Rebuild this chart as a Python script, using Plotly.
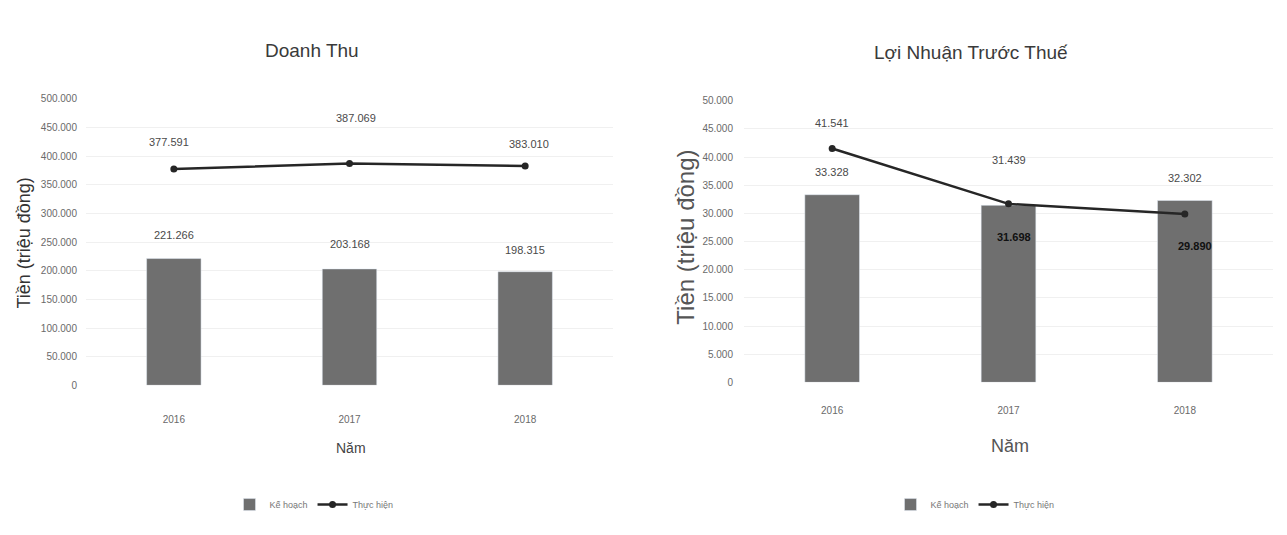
import plotly.graph_objects as go

# Years shown on both charts
years = [2016, 2017, 2018]
year_labels = ["2016", "2017", "2018"]

# Doanh Thu (triệu đồng)
revenue_plan = [221266, 203168, 198315]
revenue_actual = [377591, 387069, 383010]

# Lợi Nhuận Trước Thuế (triệu đồng)
profit_plan = [33328, 31439, 32302]
profit_actual = [41541, 31698, 29890]

# Y axis tick values
revenue_ticks = list(range(0, 500001, 50000))
profit_ticks = list(range(0, 50001, 5000))

FONT = "Liberation Sans, Arial, sans-serif"
BAR_COLOR = "#6f6f6f"
LINE_COLOR = "#262626"
GRID = "#f0f0f0"
W, H = 1287, 535


def fmt(v):
    return f"{v:,}".replace(",", ".")


fig = go.Figure()

# ---- left chart: Doanh Thu ----
fig.add_trace(go.Bar(x=years, y=revenue_plan, name="Kế hoạch", marker_color=BAR_COLOR,
                     width=0.31, xaxis="x", yaxis="y", legend="legend"))
fig.add_trace(go.Scatter(x=years, y=revenue_actual, name="Thực hiện", mode="lines+markers",
                         line=dict(color=LINE_COLOR, width=2.5),
                         marker=dict(size=7, color=LINE_COLOR),
                         xaxis="x", yaxis="y", legend="legend"))

# ---- right chart: Lợi Nhuận Trước Thuế ----
fig.add_trace(go.Bar(x=years, y=profit_plan, name="Kế hoạch", marker_color=BAR_COLOR,
                     width=0.31, xaxis="x2", yaxis="y2", legend="legend2"))
fig.add_trace(go.Scatter(x=years, y=profit_actual, name="Thực hiện", mode="lines+markers",
                         line=dict(color=LINE_COLOR, width=2.5),
                         marker=dict(size=7, color=LINE_COLOR),
                         xaxis="x2", yaxis="y2", legend="legend2"))

annotations = []


def value_labels(xref, yref, xs, vals, shifts, xshifts=None, bold=False):
    for i, (x, v, s) in enumerate(zip(xs, vals, shifts)):
        annotations.append(dict(
            x=x, y=v, xref=xref, yref=yref,
            text=f"<b>{fmt(v)}</b>" if bold else fmt(v),
            xanchor="center", yanchor="middle", showarrow=False,
            yshift=s, xshift=(xshifts[i] if xshifts else 0),
            font=dict(family=FONT, size=11, color="#111" if bold else "#4a4a4a")))


def free_text(text, px, py, size, color, angle=0, family=FONT):
    # text placed by pixel position on the page
    annotations.append(dict(
        text=text, x=px / W, y=1 - py / H, xref="paper", yref="paper",
        xanchor="center", yanchor="middle", showarrow=False, textangle=angle,
        font=dict(family=family, size=size, color=color)))


value_labels("x", "y", years, revenue_plan, [24, 25, 22])
value_labels("x", "y", years, revenue_actual, [27, 46, 22], [-5, 6, 4])
value_labels("x2", "y2", years, profit_plan, [23, 45, 22])
value_labels("x2", "y2", years[:1], profit_actual[:1], [25])
value_labels("x2", "y2", years[1:], profit_actual[1:], [-33, -32], [5, 10], bold=True)

# Titles and axis titles
free_text("Doanh Thu", 312, 46, 19, "#3a3a3a")
free_text("Lợi Nhuận Trước Thuế", 971, 48, 19, "#3a3a3a")
free_text("Tiền (triệu đồng)", 24, 243, 18, "#333", angle=-90)
free_text("Tiền (triệu đồng)", 686, 237, 24, "#555", angle=-90)
free_text("Năm", 351, 452, 14, "#444")
free_text("Năm", 1010, 450, 18, "#555")

tick_font = dict(family=FONT, size=10, color="#6a6a6a")
common_x = dict(showgrid=False, showline=False, ticks="", zeroline=False, tickfont=tick_font,
                tickvals=years, ticktext=year_labels, range=[2015.5, 2018.5])
common_y = dict(gridcolor=GRID, zeroline=False, showline=False, ticks="", tickfont=tick_font,
                tickformat=",d")

fig.update_layout(
    width=W, height=H, margin=dict(l=0, r=0, t=0, b=0),
    paper_bgcolor="white", plot_bgcolor="white",
    separators=",.",
    showlegend=True,
    annotations=annotations,
    xaxis=dict(domain=[86 / W, 613 / W], anchor="y", ticklabelstandoff=27, **common_x),
    yaxis=dict(domain=[(H - 388) / H, (H - 95) / H], anchor="x", range=[0, 500000],
               tickvals=revenue_ticks, ticklabelstandoff=8, **common_y),
    xaxis2=dict(domain=[744 / W, 1273 / W], anchor="y2", ticklabelstandoff=21, **common_x),
    yaxis2=dict(domain=[(H - 385) / H, (H - 97) / H], anchor="x2", range=[0, 50000],
                tickvals=profit_ticks, ticklabelstandoff=10, **common_y),
    legend=dict(orientation="h", x=314 / W, xanchor="center", y=(H - 510) / H,
                yanchor="middle", font=dict(family=FONT, size=9, color="#777"),
                bgcolor="rgba(0,0,0,0)"),
    legend2=dict(orientation="h", x=975 / W, xanchor="center", y=(H - 510) / H,
                 yanchor="middle", font=dict(family=FONT, size=9, color="#777"),
                 bgcolor="rgba(0,0,0,0)"),
)

fig.write_html("out.html")
